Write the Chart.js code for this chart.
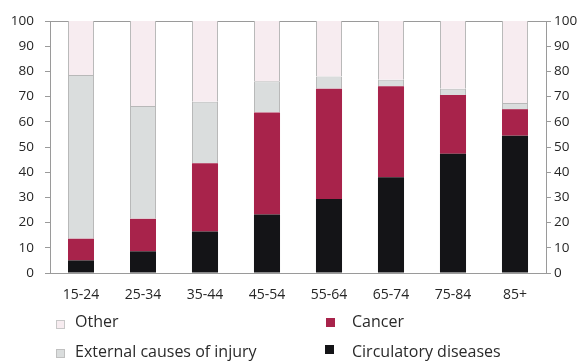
<!DOCTYPE html>
<html>
<head>
<meta charset="utf-8">
<script src="https://cdn.jsdelivr.net/npm/chart.js@4"></script>
<style>
  html, body { margin: 0; padding: 0; background: #fff; }
  #wrap { position: relative; width: 577px; height: 361px; overflow: hidden; }
  #c { position: absolute; left: 0; top: 0; }
  .lg { position: absolute; font-family: 'Open Sans', sans-serif; font-size: 16px; color: #2a2a2a; line-height: 20px; white-space: nowrap; }
  .sw { position: absolute; width: 9px; height: 9px; box-sizing: border-box; }
</style>
</head>
<body>
<div id="wrap">
  <canvas id="c" width="577" height="361"></canvas>
  <div id="legend"></div>
</div>
<script>
const categories = ['15-24', '25-34', '35-44', '45-54', '55-64', '65-74', '75-84', '85+'];
const circulatory = [5.0, 8.6, 16.5, 23.2, 29.4, 38.0, 47.3, 54.5];
const cancer      = [8.6, 12.9, 27.1, 40.5, 43.7, 36.1, 23.3, 10.5];
const external    = [65.0, 44.8, 24.4, 12.4, 4.9, 2.6, 2.5, 2.5];
const other       = [21.4, 33.7, 32.0, 23.9, 22.0, 23.3, 26.9, 32.5];
const yTicks = [0, 10, 20, 30, 40, 50, 60, 70, 80, 90, 100];

const C_OTHER = '#f7ecf0', C_EXT = '#dadddd', C_CANCER = '#a8234b', C_CIRC = '#141417';
const AXIS = '#9a9a9a', TXT = '#262626';
const FONT = "'Open Sans', sans-serif";

const datasets = [
  { label: 'Circulatory diseases', data: circulatory, backgroundColor: C_CIRC, borderWidth: 0 },
  { label: 'Cancer', data: cancer, backgroundColor: C_CANCER, borderWidth: 0 },
  { label: 'External causes of injury', data: external, backgroundColor: C_EXT, borderColor: '#b8b8b8', borderWidth: {left:1, right:1, top:1, bottom:0} },
  { label: 'Other', data: other, backgroundColor: C_OTHER, borderColor: '#b8b8b8', borderWidth: {left:1, right:1, top:0, bottom:0} }
];
datasets.forEach(d => { d.categoryPercentage = 1; d.barPercentage = 0.42; d.borderSkipped = false; });

new Chart(document.getElementById('c'), {
  type: 'bar',
  data: { labels: categories, datasets },
  options: {
    responsive: false,
    animation: false,
    layout: { padding: { top: 21, left: 0, right: 0, bottom: 0 } },
    plugins: { legend: { display: false }, tooltip: { enabled: false } },
    scales: {
      x: {
        stacked: true,
        grid: { display: false },
        border: { display: true, color: AXIS, width: 1 },
        ticks: { color: TXT, font: { family: FONT, size: 14 }, padding: 6 },
        afterFit: s => { s.height = 88; }
      },
      y: {
        stacked: true, min: 0, max: 100,
        afterBuildTicks: s => { s.ticks = yTicks.map(v => ({ value: v })); },
        border: { display: true, color: AXIS, width: 1 },
        grid: { drawOnChartArea: true, color: c => (c.tick && c.tick.value === 100) ? AXIS : 'transparent', tickColor: AXIS, tickLength: 5 },
        ticks: { color: TXT, font: { family: FONT, size: 13.5 }, padding: 11 },
        afterFit: s => { s.width = 50; }
      },
      y2: {
        position: 'right', min: 0, max: 100,
        afterBuildTicks: s => { s.ticks = yTicks.map(v => ({ value: v })); },
        border: { display: true, color: AXIS, width: 1 },
        grid: { drawOnChartArea: false, tickColor: AXIS, tickLength: 5 },
        ticks: { color: TXT, font: { family: FONT, size: 13.5 }, padding: 3 },
        afterFit: s => { s.width = 31; }
      }
    }
  }
});

// HTML legend built from dataset labels/colours
const legendItems = [
  { label: datasets[3].label, color: C_OTHER, border: '#c8c8c8', sx: 56, sy: 320, tx: 75, ty: 311 },
  { label: datasets[1].label, color: C_CANCER, border: C_CANCER, sx: 326, sy: 318, tx: 352, ty: 311 },
  { label: datasets[2].label, color: C_EXT, border: '#c0c0c0', sx: 56, sy: 349, tx: 75, ty: 341 },
  { label: datasets[0].label, color: C_CIRC, border: C_CIRC, sx: 325, sy: 345, tx: 352, ty: 341 }
];
const lg = document.getElementById('legend');
legendItems.forEach(it => {
  const sw = document.createElement('div');
  sw.className = 'sw';
  sw.style.left = it.sx + 'px'; sw.style.top = it.sy + 'px';
  sw.style.background = it.color; sw.style.border = '1px solid ' + it.border;
  lg.appendChild(sw);
  const t = document.createElement('div');
  t.className = 'lg';
  t.style.left = it.tx + 'px'; t.style.top = it.ty + 'px';
  t.textContent = it.label;
  lg.appendChild(t);
});
</script>
</body>
</html>
